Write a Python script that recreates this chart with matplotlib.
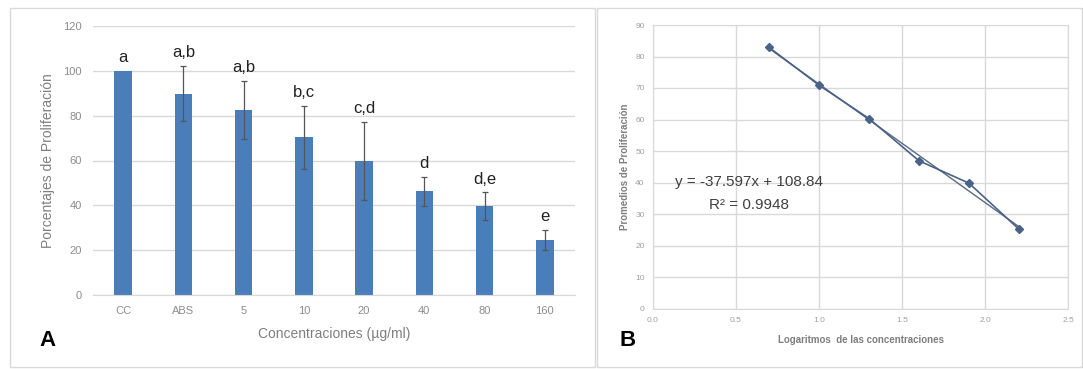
import matplotlib
matplotlib.use("Agg")
import matplotlib.pyplot as plt
from matplotlib.patches import Rectangle
import numpy as np

# panel A data
categorias = ["CC", "ABS", "5", "10", "20", "40", "80", "160"]
porcentajes = [100, 89.8, 82.6, 70.4, 59.7, 46.3, 39.6, 24.5]
errores = [0, 12.4, 12.9, 14.0, 17.5, 6.4, 6.3, 4.6]
letras = ["a", "a,b", "a,b", "b,c", "c,d", "d", "d,e", "e"]

# panel B data
log_conc = [0.699, 1.0, 1.301, 1.602, 1.903, 2.204]
promedios = [82.9, 70.9, 60.3, 46.9, 39.8, 25.2]
pendiente = -37.597
intercepto = 108.84

plt.rcParams['font.family'] = ['Liberation Sans', 'DejaVu Sans']
W, H = 1083, 369
fig = plt.figure(figsize=(W / 100, H / 100), dpi=100)

# panel frames
fig.patches.append(Rectangle((10 / W, 1 - 367 / H), 585 / W, 359 / H, transform=fig.transFigure,
                             fill=False, edgecolor='#d9d9d9', lw=1))
fig.patches.append(Rectangle((597 / W, 1 - 367 / H), 485 / W, 359 / H, transform=fig.transFigure,
                             fill=False, edgecolor='#d9d9d9', lw=1))

# ---- A: bars
axA = fig.add_axes([93 / W, 1 - 295 / H, 482 / W, 269 / H])
x = np.arange(len(categorias))
axA.bar(x, porcentajes, width=0.29, color='#4a7ebb', zorder=2)
err = [e if e > 0 else np.nan for e in errores]
axA.errorbar(x, porcentajes, yerr=err, fmt='none', ecolor='#555555', elinewidth=0.9,
             capsize=2.5, capthick=0.9, zorder=3)
for i in range(len(x)):
    top = porcentajes[i] + errores[i]
    axA.text(x[i], top + 2.5, letras[i], ha='center', va='bottom', fontsize=12, color='#222222')
axA.set_ylim(0, 120)
axA.set_xlim(-0.5, len(x) - 0.5)
axA.set_yticks(range(0, 121, 20))
axA.set_xticks(x)
axA.set_xticklabels(categorias)
axA.grid(axis='y', color='#d9d9d9', lw=1, zorder=0)
for s in ['top', 'right', 'left']:
    axA.spines[s].set_visible(False)
axA.spines['bottom'].set_color('#d9d9d9')
axA.tick_params(length=0, labelsize=8, colors='#8c8c8c', pad=8)
axA.set_ylabel("Porcentajes de Proliferación", fontsize=10, color='#7f7f7f', labelpad=6)
axA.set_xlabel("Concentraciones (µg/ml)", fontsize=10, color='#7f7f7f', labelpad=8)
fig.text(47 / W, 1 - 340 / H, "A", fontsize=16, fontweight='bold', ha='center', va='center')

# ---- B: scatter with trend line
axB = fig.add_axes([653 / W, 1 - 308.5 / H, 415 / W, 283.5 / H])
axB.plot(log_conc, promedios, color='#4a6288', lw=1.2, marker='D', markersize=4, zorder=3)
xt = np.array([log_conc[0], log_conc[-1]])
axB.plot(xt, pendiente * xt + intercepto, color='#5a6b80', lw=1.0, zorder=2)
axB.set_xlim(0, 2.5)
axB.set_ylim(0, 90)
axB.set_xticks(np.arange(0, 2.51, 0.5))
axB.set_xticklabels(["0.0", "0.5", "1.0", "1.5", "2.0", "2.5"])
axB.set_yticks(range(0, 91, 10))
axB.grid(color='#d9d9d9', lw=1, zorder=0)
for s in axB.spines.values():
    s.set_color('#d9d9d9')
axB.tick_params(length=0, labelsize=6, colors='#a0a0a0', pad=6)
axB.set_ylabel("Promedios de Proliferación", fontsize=7, color='#7f7f7f', fontweight='bold', labelpad=4)
axB.set_xlabel("Logaritmos  de las concentraciones", fontsize=7, color='#7f7f7f', fontweight='bold', labelpad=8)
axB.text(0.58, 40.3, "y = -37.597x + 108.84", fontsize=11, color='#404040', ha='center', va='center')
axB.text(0.58, 32.9, "R² = 0.9948", fontsize=11, color='#404040', ha='center', va='center')
fig.text(628 / W, 1 - 340 / H, "B", fontsize=16, fontweight='bold', ha='center', va='center')

fig.savefig("out.png", dpi=100)
